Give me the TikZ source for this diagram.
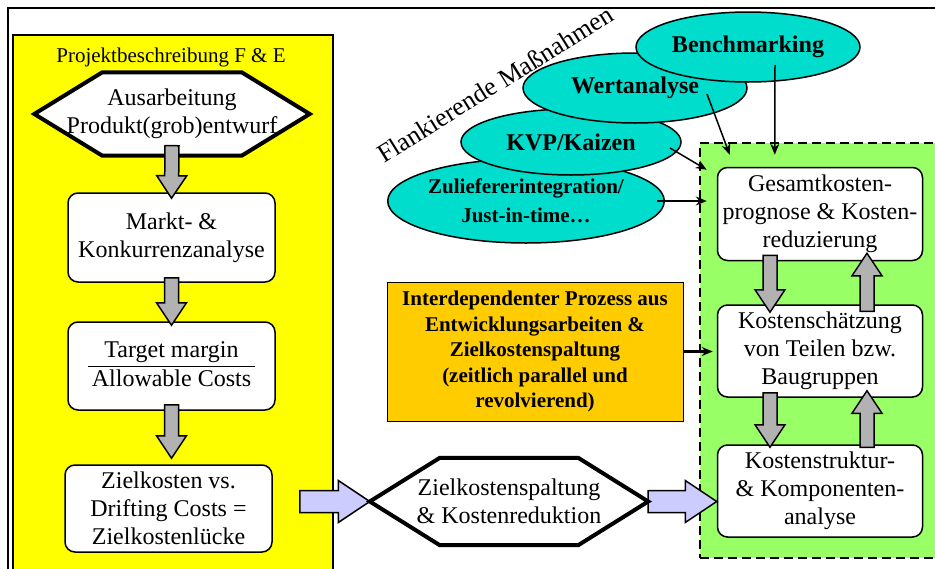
\documentclass[tikz,border=0pt]{standalone}
\usepackage{fontspec}
\setmainfont{Liberation Serif}
\usetikzlibrary{calc,shapes.geometric,arrows.meta}

\definecolor{gelb}{RGB}{255,255,0}
\definecolor{hellgruen}{RGB}{153,255,102}
\definecolor{tuerkis}{RGB}{0,221,204}
\definecolor{orangegelb}{RGB}{255,204,0}
\definecolor{lila}{RGB}{204,204,255}
\definecolor{grau}{RGB}{178,178,178}

\newcommand{\normalschrift}{\fontsize{24}{28}\selectfont}

% dicker Blockpfeil: Farbe, halbe Schaftbreite, halbe Spitzenbreite, von, nach
\newcommand{\blockpfeil}[5]{%
	\draw[line width=1.5pt,fill=#1,line join=miter] let \p1=(#4), \p2=(#5),
		\n1={veclen(\x2-\x1,\y2-\y1)}, \n2={atan2(\y2-\y1,\x2-\x1)}, \n3={1.5*#3pt} in
		[shift={(\p1)},rotate=\n2]
		(0pt,#2pt) -- (\n1-\n3,#2pt) -- (\n1-\n3,#3pt) -- (\n1,0pt)
		-- (\n1-\n3,-#3pt) -- (\n1-\n3,-#2pt) -- (0pt,-#2pt) -- cycle;
}

% Sechseck um einen (leeren) Knoten: Knoten, Abschraegung
\newcommand{\sechseck}[2]{%
	\draw[line width=4pt,fill=white,line join=miter] (#1.west) -- ([xshift=#2]#1.north west)
		-- ([xshift=-#2]#1.north east) -- (#1.east) -- ([xshift=-#2]#1.south east)
		-- ([xshift=#2]#1.south west) -- cycle;
}

\begin{document}
\begin{tikzpicture}[x=1pt,y=-1pt,>={Stealth[length=11pt,width=9pt]},
	kasten/.style={draw,line width=1.5pt,rounded corners=10pt,fill=white,align=center,
		inner sep=2pt,minimum width=207pt,minimum height=89pt,font=\normalschrift},
	oval/.style={ellipse,draw,line width=1.5pt,fill=tuerkis,inner sep=0pt,align=center,
		minimum width=224pt,minimum height=70pt,font=\bfseries\normalschrift},
	pfeil/.style={->,line width=1.5pt}]

\useasboundingbox (0,0) rectangle (935,568);
\clip (0,0) rectangle (935,568);

% Rahmen
\draw[line width=1.5pt] (8,8) rectangle (960,590);

% linke Spalte
\node[draw,line width=2pt,fill=gelb,minimum width=320pt,minimum height=560pt,anchor=north west] (projekt) at (12,34) {};
\node[font=\fontsize{21}{25}\selectfont] (titel) at (171,57) {Projektbeschreibung F \& E};

\node[minimum width=275pt,minimum height=83pt] (hex1) at (172,114) {};
\sechseck{hex1}{68pt}
\node[align=center,font=\normalschrift] (hex1text) at (hex1) {Ausarbeitung\\Produkt(grob)entwurf};

\node[kasten] (markt) at (171.5,237.5) {Markt- \&\\Konkurrenzanalyse};
\node[kasten,minimum height=88pt] (target) at (171.5,366)
	{\setlength{\arrayrulewidth}{1pt}\setlength{\tabcolsep}{3.5pt}%
	\begin{tabular}{c}Target margin\\\hline Allowable Costs\end{tabular}};
\node[kasten,minimum height=87pt] (ziel) at (168.5,508.5) {Zielkosten vs.\\Drifting Costs =\\Zielkostenlücke};

\blockpfeil{grau}{7}{15}{[yshift=10pt]hex1.south}{[yshift=-6pt]markt.north}
\blockpfeil{grau}{7}{15}{[yshift=5pt]markt.south}{[yshift=-4pt]target.north}
\blockpfeil{grau}{7}{15}{[yshift=6pt]target.south}{$(target.south |- ziel.north)+(0,-6)$}

% rechte Spalte
\node[draw,line width=2.5pt,dash pattern=on 9pt off 5pt,fill=hellgruen,minimum width=245pt,minimum height=415pt] (gruen) at (822.5,350.5) {};

\node[kasten,minimum width=205pt,minimum height=93pt] (gesamt) at (820,214) {Gesamtkosten-\\prognose \& Kosten-\\reduzierung};
\node[kasten,minimum width=205pt,minimum height=92pt] (teile) at (820,351) {Kostenschätzung\\von Teilen bzw.\\Baugruppen};
\node[kasten,minimum width=205pt,minimum height=92pt] (kst) at (820,491) {Kostenstruktur-\\\& Komponenten-\\analyse};

\blockpfeil{grau}{7}{15}{[shift={(-50,-6)}]gesamt.south}{[shift={(-50,8)}]teile.north}
\blockpfeil{grau}{7}{15}{[shift={(47,7)}]teile.north}{[shift={(47,-8)}]gesamt.south}
\blockpfeil{grau}{7}{15}{[shift={(-50,-5)}]teile.south}{[shift={(-50,3)}]kst.north}
\blockpfeil{grau}{7}{15}{[shift={(47,3)}]kst.north}{[shift={(47,-7)}]teile.south}

% Mitte
\node[minimum width=278pt,minimum height=87pt] (hex2) at (509,501.5) {};
\blockpfeil{lila}{11}{21}{[xshift=-70pt]hex2.west}{hex2.west}
\blockpfeil{lila}{11}{21}{hex2.east}{hex2.east -| kst.west}
\sechseck{hex2}{70pt}
\node[align=center,font=\normalschrift] (hex2text) at (hex2) {Zielkostenspaltung\\\& Kostenreduktion};

\node[draw,line width=0.8pt,fill=orangegelb,minimum width=296pt,minimum height=139pt,align=center,
	font=\bfseries\fontsize{21}{25.5}\selectfont] (prozess) at (535,351.5)
	{Interdependenter Prozess aus\\Entwicklungsarbeiten \&\\Zielkostenspaltung\\(zeitlich parallel und\\revolvierend)};
\draw[->,line width=3pt] (prozess.east) -- ($(prozess.east -| teile.west)+(-4,0)$);

% flankierende Massnahmen
\node[rotate=32,font=\fontsize{26}{30}\selectfont] (flank) at (495,84) {Flankierende Maßnahmen};

\node[oval,minimum width=274pt,minimum height=84pt,font=\bfseries\fontsize{21}{29}\selectfont] (zuli) at (526,201) {Zuliefererintegration/\\Just-in-time…};
\node[oval,minimum width=220pt,minimum height=66pt] (kvp) at (571,142) {KVP/Kaizen};
\node[oval] (wert) at (635,88) {Wertanalyse};
\node[oval] (bench) at (748,47) {Benchmarking};

\draw[pfeil] ([shift={(27,18)}]bench.center) -- ([shift={(58,-12)}]gesamt.north west);
\draw[pfeil] ([shift={(72,6)}]wert.center) -- ([shift={(13,-12)}]gesamt.north west);
\draw[pfeil] ([shift={(99,6)}]kvp.center) -- ([shift={(-10,3)}]gesamt.north west);
\draw[pfeil] ([xshift=-8pt]zuli.east) -- ($(zuli.east -| gesamt.west)+(-10,0)$);

\end{tikzpicture}
\end{document}
